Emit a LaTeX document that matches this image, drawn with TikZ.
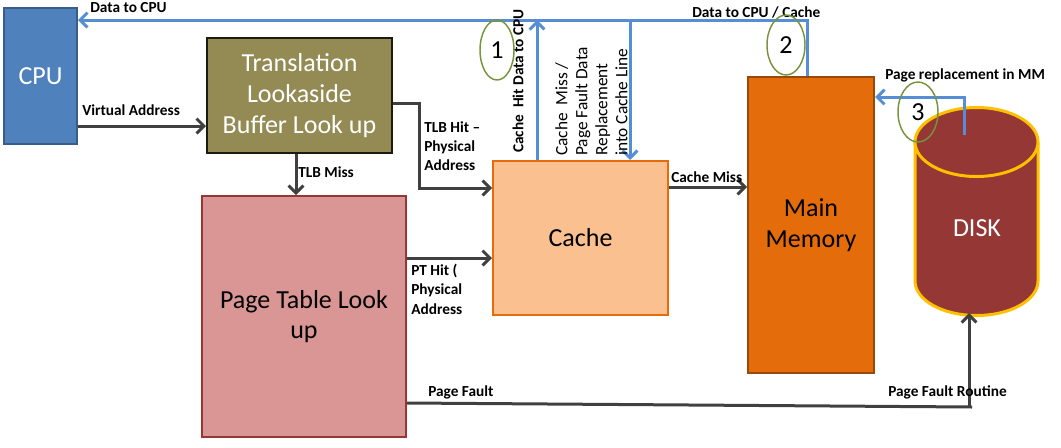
\documentclass[tikz,border=0pt]{standalone}
\usepackage{fontspec}
\setmainfont{Carlito}
\usetikzlibrary{arrows.meta,shapes.geometric}
\definecolor{cpublue}{HTML}{4F81BD}
\definecolor{cpuedge}{HTML}{385D8A}
\definecolor{tlbolive}{HTML}{948A54}
\definecolor{tlbedge}{HTML}{1D1B10}
\definecolor{ptpink}{HTML}{D99694}
\definecolor{ptedge}{HTML}{953735}
\definecolor{cachepeach}{HTML}{FAC090}
\definecolor{cacheedge}{HTML}{E46C0A}
\definecolor{mmorange}{HTML}{E46C0A}
\definecolor{mmedge}{HTML}{984807}
\definecolor{diskred}{HTML}{953735}
\definecolor{diskgold}{HTML}{FFC000}
\definecolor{lineblue}{HTML}{558ED5}
\definecolor{arrowgray}{HTML}{404040}
\definecolor{ringgreen}{HTML}{77933C}
\begin{document}
\begin{tikzpicture}[x=0.75pt,y=-0.75pt]
		% Define the styles
		\tikzstyle{box}=[draw, line width=1.5pt, inner sep=2pt, align=center, font=\fontsize{19.5}{23}\selectfont]
		\tikzstyle{lbl}=[inner sep=0pt, align=left, font=\fontsize{11.5}{14.5}\selectfont\bfseries]
		\tikzstyle{darrow}=[draw=arrowgray, line width=2.25pt, -{Straight Barb[length=5.5pt,width=11pt]}]
		\tikzstyle{dline}=[draw=arrowgray, line width=2.25pt]
		\tikzstyle{barrow}=[draw=lineblue, line width=2.25pt, -{Straight Barb[length=5.5pt,width=11pt]}]
		\tikzstyle{ring}=[ellipse, draw=ringgreen, line width=1.1pt, inner sep=0pt, font=\fontsize{19.5}{23}\selectfont]
		\useasboundingbox (0,0) rectangle (1061,447);
		
		% Boxes
		\node[box, fill=cpublue, draw=cpuedge, text=white, minimum width=54.75pt, minimum height=102pt] (cpu) at (40.5,76) {CPU};
		\node[box, fill=tlbolive, draw=tlbedge, text=white, minimum width=138.75pt, minimum height=86.25pt] (tlb) at (299.5,95.5) {Translation\\Lookaside\\Buffer Look up};
		\node[box, fill=ptpink, draw=ptedge, minimum width=153pt, minimum height=180.75pt] (pt) at (304,316.5) {Page Table Look\\up};
		\node[box, fill=cachepeach, draw=cacheedge, minimum width=131.25pt, minimum height=115.5pt] (cache) at (580.5,238) {Cache};
		\node[box, fill=mmorange, draw=mmedge, minimum width=94.5pt, minimum height=222pt] (mm) at (811,225) {Main\\Memory};
		
		% Disk cylinder
		\fill[diskred] (915,142) rectangle (1038,281);
		\fill[diskred] (976.5,281) ellipse (61.5 and 34.5);
		\draw[diskgold, line width=2.25pt] (915,142) -- (915,281) arc (180:0:61.5 and 34.5) -- (1038,142);
		\filldraw[fill=diskred, draw=diskgold, line width=2.25pt] (976.5,142) ellipse (61.5 and 34.5);
		\node[text=white, font=\fontsize{19.5}{23}\selectfont] (disk) at (977,228) {DISK};
		
		% Bend points
		\coordinate (va) at (0,126); \coordinate (miss) at (296,0);
		\coordinate (hitout) at (0,103); \coordinate (hitbend) at (419,188);
		\coordinate (pthit) at (0,258); \coordinate (cmiss) at (0,187);
		\coordinate (topcorner) at (807,20); \coordinate (hitup) at (537,20);
		\coordinate (missdown) at (630,20); \coordinate (diskout) at (964,135);
		\coordinate (replbend) at (964,97); \coordinate (pf) at (0,403);
		\coordinate (pfend) at (972,407); \coordinate (pfup) at (969,407);
		\coordinate (diskbot) at (969,313);
		
		% Dark connectors
		\draw[darrow] (cpu.east |- va) -- (tlb.west |- va);
		\draw[darrow] (tlb.south -| miss) -- (pt.north -| miss);
		\draw[darrow] (tlb.east |- hitout) -- (hitbend |- hitout) -- (hitbend) -- (cache.west |- hitbend);
		\draw[darrow] (pt.east |- pthit) -- (cache.west |- pthit);
		\draw[darrow] (cache.east |- cmiss) -- (mm.west |- cmiss);
		\draw[dline] (pt.east |- pf) -- (pfend);
		\draw[darrow] (pfup) -- (diskbot);
		
		% Blue data paths
		\draw[barrow] (mm.north -| topcorner) -- (topcorner) -- (cpu.east |- topcorner);
		\draw[barrow] (cache.north -| hitup) -- (hitup);
		\draw[barrow] (missdown) -- (cache.north -| missdown);
		\draw[barrow] (diskout) -- (replbend) -- (mm.east |- replbend);
		
		% Labels
		\node[lbl, anchor=west] (ldcpu) at (90,8) {Data to CPU};
		\node[lbl, anchor=west] (ldcache) at (692,12) {Data to CPU / Cache};
		\node[lbl, anchor=west] (lrepl) at (885,75) {Page replacement in MM};
		\node[lbl, anchor=west] (lva) at (82,110) {Virtual Address};
		\node[lbl, anchor=west] (lmiss) at (298,172) {TLB Miss};
		\node[lbl, anchor=north west] (lhit) at (424,121) {TLB Hit --\\Physical\\Address};
		\node[lbl, anchor=north west] (lpthit) at (411,264) {PT Hit (\\Physical\\Address};
		\node[lbl, anchor=west] (lcmiss) at (671,177) {Cache Miss};
		\node[lbl, anchor=west] (lpf) at (428,392) {Page Fault};
		\node[lbl, anchor=west] (lpfr) at (888,392) {Page Fault Routine};
		\node[lbl, rotate=90, anchor=west] (lchit) at (518,153) {Cache\ \ Hit Data to CPU};
		\node[lbl, font=\fontsize{13}{15}\selectfont, rotate=90, anchor=north west] (lcmissdata) at (555,156) {Cache\ \ Miss /\\Page Fault Data\\Replacement\\into Cache Line};
		
		% Numbered rings
		\node[ring, minimum width=25.5pt, minimum height=45pt] (one) at (497,50) {1};
		\node[ring, minimum width=28.5pt, minimum height=45pt] (two) at (786,45) {2};
		\node[ring, minimum width=30pt, minimum height=45pt] (three) at (918,112) {3};
	\end{tikzpicture}
\end{document}
